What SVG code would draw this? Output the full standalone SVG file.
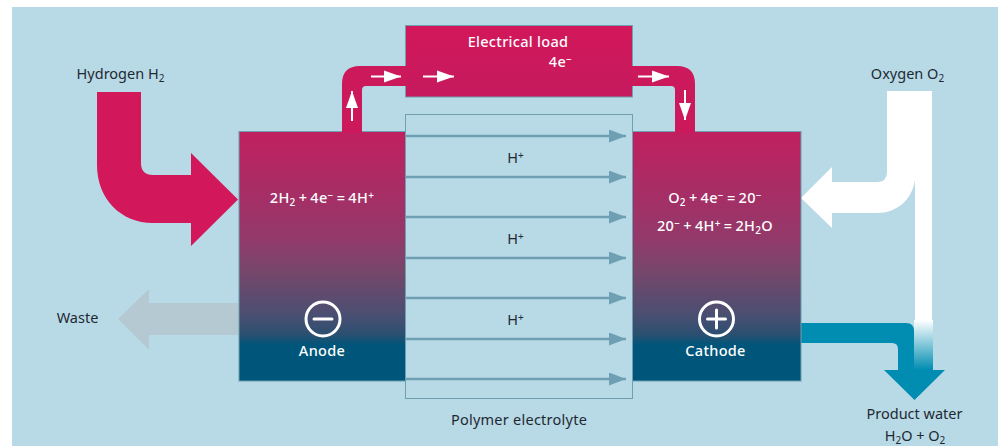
<svg xmlns="http://www.w3.org/2000/svg" width="998" height="446" viewBox="0 0 998 446">
<style>
text{font-family:"Noto Sans","Open Sans","Liberation Sans",sans-serif;font-size:14.500px}
.d{fill:#1e2a33}
.w{fill:#fff;font-weight:500;letter-spacing:.3px}
.q{word-spacing:-1px}
.p{letter-spacing:.25px}
.m{text-anchor:middle}
.s{font-size:10px}
.box{stroke:#6f9fb0;stroke-width:1}
.ion{stroke:#6e9fb2;stroke-width:2.500;fill:none;marker-end:url(#ih)}
.e{stroke:#fff;stroke-width:2;fill:none;marker-end:url(#eh)}
</style>
<defs>
<marker id="ih" markerUnits="userSpaceOnUse" markerWidth="18" markerHeight="14" refX="17" refY="6.500" orient="auto"><path d="M0 0L17 6.500L0 13Z" fill="#6e9fb2"/></marker>
<marker id="eh" markerUnits="userSpaceOnUse" markerWidth="18" markerHeight="14" refX="17" refY="6.500" orient="auto"><path d="M0 .5L17 6.500L0 12.500Z" fill="#fff"/></marker>
<linearGradient id="cell" gradientUnits="userSpaceOnUse" x1="0" y1="131" x2="0" y2="345"><stop offset="0" stop-color="#c11f5f"/><stop offset=".5" stop-color="#93396a"/><stop offset=".66" stop-color="#75476b"/><stop offset=".86" stop-color="#4a4f72"/><stop offset=".95" stop-color="#2c4f70"/><stop offset="1" stop-color="#00567a"/></linearGradient>
<linearGradient id="load" x1="0" y1="0" x2="0" y2="1"><stop offset="0" stop-color="#d2175a"/><stop offset="1" stop-color="#c61a5e"/></linearGradient>
<linearGradient id="mix" x1="0" y1="0" x2="0" y2="1"><stop offset="0" stop-color="#fff"/><stop offset="1" stop-color="#008db1"/></linearGradient>
</defs>
<rect width="998" height="446" fill="#fff"/>
<rect x="12" y="7" width="986" height="439" fill="#b8d9e6"/>

<g id="flows">
<path id="hydrogen-flow" d="M97 92H141V163Q141 175 153 175H191V153L238 199.500L191 246V223H153C121 223 97 199 97 165Z" fill="#d2175a"/>
<path id="oxygen-flow" d="M887 91H932V330H915V180C912 200 897 213 877 213H832V228L801 198L832 167V182H877Q887 182 887 172Z" fill="#fff"/>
<path id="product-flow" d="M801 323H906Q914 323 914 331V370H945L914.500 400L884 370H898V349Q898 343 892 343H801Z" fill="#008db1"/>
<rect x="914" y="320" width="19" height="50" fill="url(#mix)"/>
<path id="waste-flow" d="M239 303H149V289L118 319L149 350V335H239Z" fill="#b5c9d3"/>
</g>

<g id="electrolyte">
<rect class="box" x="405.500" y="114.500" width="227" height="284" fill="#b8d9e6"/>
<g id="ion-arrows">
<path class="ion" d="M406 136H626"/>
<path class="ion" d="M406 177H626"/>
<path class="ion" d="M406 217H626"/>
<path class="ion" d="M406 258H626"/>
<path class="ion" d="M406 298H626"/>
<path class="ion" d="M406 339H626"/>
<path class="ion" d="M406 379H626"/>
</g>
<text class="d m" x="515.500" y="163">H<tspan class="s" dy="-4">+</tspan></text>
<text class="d m" x="515.500" y="244">H<tspan class="s" dy="-4">+</tspan></text>
<text class="d m" x="515.500" y="325">H<tspan class="s" dy="-4">+</tspan></text>
<text class="d m p" x="519" y="424.500">Polymer electrolyte</text>
</g>

<g id="electrical-load">
<rect class="box" x="405.500" y="25.500" width="227" height="71.500" fill="url(#load)"/>
<text class="w m" x="518" y="47">Electrical load</text>
<text class="w m" x="560.500" y="67">4e<tspan class="s" dy="-4">−</tspan></text>
</g>

<g id="anode">
<rect class="box" x="239" y="131.500" width="166.500" height="249.500" fill="url(#cell)"/>
<text class="w m q" x="322" y="203">2H<tspan class="s" dy="3">2</tspan><tspan dy="-3"> + 4e</tspan><tspan class="s" dy="-4">−</tspan><tspan dy="4"> = 4H</tspan><tspan class="s" dy="-4">+</tspan></text>
<circle cx="323" cy="319" r="17" fill="none" stroke="#fff" stroke-width="3"/>
<path d="M314 319H332" stroke="#fff" stroke-width="3" stroke-linecap="round"/>
<text class="w m" x="322" y="356">Anode</text>
</g>

<g id="cathode">
<rect class="box" x="632.500" y="131.500" width="168.500" height="249.500" fill="url(#cell)"/>
<text class="w m q" x="715" y="203">O<tspan class="s" dy="3">2</tspan><tspan dy="-3"> + 4e</tspan><tspan class="s" dy="-4">−</tspan><tspan dy="4"> = 20</tspan><tspan class="s" dy="-4">−</tspan></text>
<text class="w m q" x="715" y="231">20<tspan class="s" dy="-4">−</tspan><tspan dy="4"> + 4H</tspan><tspan class="s" dy="-4">+</tspan><tspan dy="4"> = 2H</tspan><tspan class="s" dy="3">2</tspan><tspan dy="-3">O</tspan></text>
<circle cx="716.500" cy="319" r="17" fill="none" stroke="#fff" stroke-width="3"/>
<path d="M707.500 319H725.500M716.500 310V328" stroke="#fff" stroke-width="3" stroke-linecap="round"/>
<text class="w m" x="715.500" y="356">Cathode</text>
</g>

<g id="connectors">
<path id="wire-left" d="M342 133V84Q342 66 360 66H407V86H366Q362 86 362 90V133Z" fill="#cc195c"/>
<path id="wire-right" d="M631 66H677Q695 66 695 84V133H675V90Q675 86 671 86H631Z" fill="#cc195c"/>
<path class="e" d="M352 121V91"/>
<path class="e" d="M371 76.500H401"/>
<path class="e" d="M423 76.500H454"/>
<path class="e" d="M638 76.500H669"/>
<path class="e" d="M685 90V120"/>
</g>

<g id="labels">
<text class="d m" x="120.500" y="79">Hydrogen H<tspan class="s" dy="3">2</tspan></text>
<text class="d m" x="907.500" y="79">Oxygen O<tspan class="s" dy="3">2</tspan></text>
<text class="d m" x="77.500" y="323">Waste</text>
<text class="d m" x="914.500" y="419">Product water</text>
<text class="d m" x="915" y="441">H<tspan class="s" dy="3">2</tspan><tspan dy="-3">O + O</tspan><tspan class="s" dy="3">2</tspan></text>
</g>
</svg>
